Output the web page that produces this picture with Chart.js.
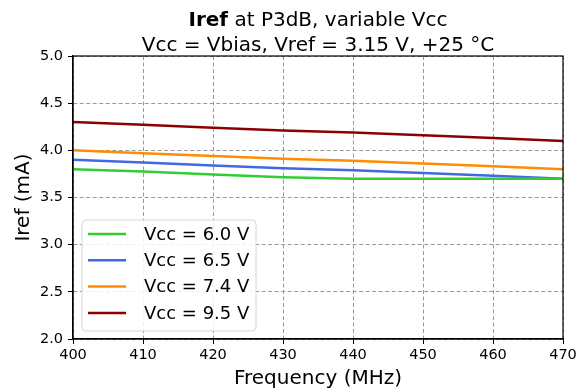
<!DOCTYPE html>
<html>
<head>
<meta charset="utf-8">
<script src="https://cdn.jsdelivr.net/npm/chart.js@4"></script>
<style>
  html, body { margin: 0; padding: 0; background: #fff; }
  #wrap { width: 587px; height: 391px; }
</style>
</head>
<body>
<div id="wrap"><canvas id="myChart" width="587" height="391"></canvas></div>
<script>
var freqs = [400, 410, 420, 430, 440, 450, 460, 470]

// Iref in mA, one array per Vcc
var iref60 = [3.80, 3.775, 3.745, 3.715, 3.70, 3.70, 3.70, 3.70]
var iref65 = [3.90, 3.87, 3.84, 3.81, 3.79, 3.76, 3.73, 3.70]
var iref74 = [4.00, 3.97, 3.94, 3.91, 3.89, 3.86, 3.83, 3.80]
var iref95 = [4.30, 4.27, 4.24, 4.21, 4.19, 4.16, 4.13, 4.10]

var seriesLabels = ['Vcc = 6.0 V', 'Vcc = 6.5 V', 'Vcc = 7.4 V', 'Vcc = 9.5 V']
var seriesColors = ['#32cd32', '#4169e1', '#ff8c00', '#8b0000']

var FONT = "'DejaVu Sans', sans-serif"

function toPoints(vals) {
  var pts = []
  for (var i = 0; i < freqs.length; i++) {
    pts.push({ x: freqs[i], y: vals[i] })
  }
  return pts
}

// title with bold "Iref", frame, and legend box inside the plot
var extras = {
  id: 'extras',
  afterDraw: function (chart) {
    var ctx = chart.ctx
    var a = chart.chartArea
    var cx = (a.left + a.right) / 2
    ctx.save()
    ctx.fillStyle = '#000'
    ctx.textBaseline = 'alphabetic'

    // title line 1
    ctx.font = 'bold 20px ' + FONT
    var w1 = ctx.measureText('Iref').width
    ctx.font = '20px ' + FONT
    var w2 = ctx.measureText(' at P3dB, variable Vcc').width
    var x0 = cx - (w1 + w2) / 2
    ctx.textAlign = 'left'
    ctx.font = 'bold 20px ' + FONT
    ctx.fillText('Iref', x0, 26)
    ctx.font = '20px ' + FONT
    ctx.fillText(' at P3dB, variable Vcc', x0 + w1, 26)
    // title line 2
    ctx.textAlign = 'center'
    ctx.fillText('Vcc = Vbias, Vref = 3.15 V, +25 \u00b0C', cx, 51)

    // frame
    ctx.strokeStyle = '#000'
    ctx.lineWidth = 1.2
    ctx.strokeRect(a.left, a.top, a.right - a.left, a.bottom - a.top)

    // legend
    var lx = a.left + 9, ly = 220, lw = 174, lh = 111
    ctx.beginPath()
    ctx.roundRect(lx, ly, lw, lh, 4)
    ctx.fillStyle = 'rgba(255,255,255,0.85)'
    ctx.fill()
    ctx.strokeStyle = '#d6d6d6'
    ctx.lineWidth = 1
    ctx.stroke()
    ctx.font = '18px ' + FONT
    ctx.textAlign = 'left'
    ctx.textBaseline = 'middle'
    for (var i = 0; i < seriesLabels.length; i++) {
      var yy = 234 + i * 26.3
      ctx.strokeStyle = seriesColors[i]
      ctx.lineWidth = 2.5
      ctx.beginPath()
      ctx.moveTo(lx + 6, yy)
      ctx.lineTo(lx + 44, yy)
      ctx.stroke()
      ctx.fillStyle = '#000'
      ctx.fillText(seriesLabels[i], lx + 62, yy + 1)
    }
    ctx.restore()
  }
}

var datasets = []
var allVals = [iref60, iref65, iref74, iref95]
for (var i = 0; i < allVals.length; i++) {
  datasets.push({
    label: seriesLabels[i],
    data: toPoints(allVals[i]),
    borderColor: seriesColors[i],
    backgroundColor: seriesColors[i],
    borderWidth: 2.5,
    pointRadius: 0,
    tension: 0
  })
}

var ctx = document.getElementById('myChart').getContext('2d')
var chart = new Chart(ctx, {
  type: 'line',
  data: { datasets: datasets },
  plugins: [extras],
  options: {
    responsive: false,
    animation: false,
    layout: { padding: { top: 56, right: 24, left: 0, bottom: 0 } },
    plugins: {
      legend: { display: false },
      title: { display: false },
      tooltip: { enabled: false }
    },
    scales: {
      x: {
        type: 'linear',
        min: 400,
        max: 470,
        ticks: { stepSize: 10, color: '#000', padding: 3, font: { family: FONT, size: 14.5 } },
        grid: { color: '#999', lineWidth: 1, tickColor: '#000', tickLength: 5, tickBorderDash: [] },
        border: { color: '#000', width: 1.2, dash: [4, 2.5] },
        title: { display: true, text: 'Frequency (MHz)', color: '#000', padding: { top: 0, bottom: 0 }, font: { family: FONT, size: 20 } },
        afterFit: function (s) { s.height = 52 }
      },
      y: {
        min: 2,
        max: 5,
        ticks: {
          stepSize: 0.5, color: '#000', padding: 5, font: { family: FONT, size: 14.5 },
          callback: function (v) { return v.toFixed(1) }
        },
        grid: { color: '#999', lineWidth: 1, tickColor: '#000', tickLength: 5, tickBorderDash: [] },
        border: { color: '#000', width: 1.2, dash: [4, 2.5] },
        title: { display: true, text: 'Iref (mA)', color: '#000', padding: { top: 12, bottom: 0 }, font: { family: FONT, size: 20 } },
        afterFit: function (s) { s.width = 73 }
      }
    }
  }
})
</script>
</body>
</html>
